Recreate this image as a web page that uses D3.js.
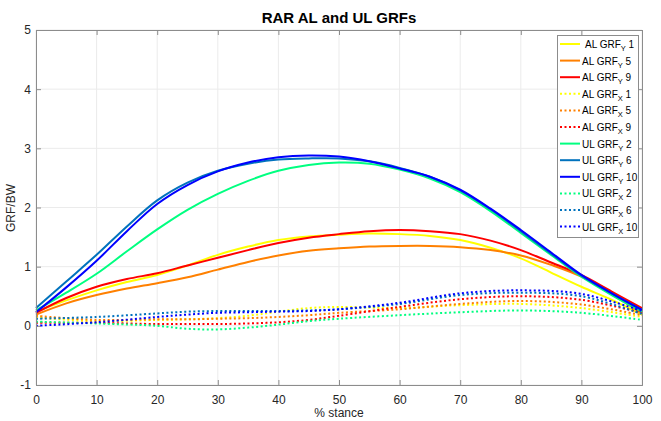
<!DOCTYPE html>
<html>
<head lang="en">
    <meta charset="UTF-8">
    <title>RAR AL and UL GRFs</title>
    <script src="https://cdn.jsdelivr.net/npm/d3@7/dist/d3.min.js"></script>
    <style>
        body { margin: 0; background: #fff; }
        svg { font-family: "Liberation Sans", Arial, sans-serif; }
    </style>
</head>
<body>
<div id="chart"></div>
<script>
    // % stance sample points
    var stance = [0,5,10,15,20,25,30,35,40,45,50,55,60,65,70,75,80,85,90,95,100];
    var stanceX = [0,10,20,25,30,35,40,45,50,60,70,80,90,100];

    // vertical GRF (solid)
    var alY1  = [0.24,0.43,0.60,0.74,0.86,1.02,1.20,1.34,1.45,1.51,1.54,1.56,1.55,1.52,1.45,1.32,1.14,0.90,0.66,0.44,0.19];
    var alY5  = [0.19,0.38,0.52,0.63,0.72,0.82,0.95,1.08,1.19,1.27,1.31,1.34,1.35,1.35,1.33,1.28,1.19,1.03,0.83,0.53,0.21];
    var alY9  = [0.22,0.47,0.66,0.79,0.89,1.02,1.15,1.28,1.40,1.49,1.55,1.60,1.62,1.60,1.55,1.44,1.28,1.07,0.86,0.58,0.30];
    var ulY2  = [0.26,0.56,0.88,1.26,1.63,1.96,2.23,2.45,2.62,2.72,2.76,2.74,2.64,2.49,2.26,1.94,1.57,1.20,0.83,0.52,0.24];
    var ulY6  = [0.30,0.75,1.20,1.68,2.12,2.42,2.62,2.74,2.81,2.83,2.83,2.78,2.67,2.52,2.29,1.97,1.60,1.22,0.85,0.55,0.27];
    var ulY10 = [0.23,0.65,1.10,1.60,2.06,2.38,2.61,2.76,2.85,2.88,2.86,2.78,2.66,2.52,2.30,1.98,1.62,1.24,0.86,0.55,0.27];

    // horizontal GRF (dotted)
    var alX1  = [0.14,0.08,0.10,0.11,0.13,0.17,0.24,0.30,0.32,0.30,0.35,0.37,0.30,0.15];
    var alX5  = [0.17,0.10,0.11,0.11,0.12,0.13,0.15,0.18,0.22,0.28,0.37,0.42,0.36,0.18];
    var alX9  = [0.05,0.05,0.03,0.03,0.03,0.04,0.06,0.10,0.17,0.32,0.45,0.50,0.44,0.22];
    var ulX2  = [0.07,0.04,0.00,-0.05,-0.06,-0.03,0.02,0.08,0.12,0.18,0.23,0.26,0.22,0.10];
    var ulX6  = [0.12,0.15,0.21,0.24,0.25,0.25,0.25,0.26,0.28,0.37,0.52,0.56,0.50,0.20];
    var ulX10 = [0.00,0.06,0.15,0.19,0.22,0.23,0.24,0.25,0.28,0.39,0.55,0.60,0.54,0.25];

    var xTicks = [0,10,20,30,40,50,60,70,80,90,100];
    var yTicks = [-1,0,1,2,3,4,5];

    var series = [
        {pre:'AL GRF', sub:'Y', post:' 1',  x:stance,  y:alY1,  color:'#ffff00', dot:false, lead:true},
        {pre:'AL GRF', sub:'Y', post:' 5',  x:stance,  y:alY5,  color:'#ff8000', dot:false},
        {pre:'AL GRF', sub:'Y', post:' 9',  x:stance,  y:alY9,  color:'#ff0000', dot:false},
        {pre:'AL GRF', sub:'X', post:' 1',  x:stanceX, y:alX1,  color:'#ffff00', dot:true},
        {pre:'AL GRF', sub:'X', post:' 5',  x:stanceX, y:alX5,  color:'#ff8000', dot:true},
        {pre:'AL GRF', sub:'X', post:' 9',  x:stanceX, y:alX9,  color:'#ff0000', dot:true},
        {pre:'UL GRF', sub:'Y', post:' 2',  x:stance,  y:ulY2,  color:'#00ff80', dot:false},
        {pre:'UL GRF', sub:'Y', post:' 6',  x:stance,  y:ulY6,  color:'#0072bd', dot:false},
        {pre:'UL GRF', sub:'Y', post:' 10', x:stance,  y:ulY10, color:'#0000ff', dot:false},
        {pre:'UL GRF', sub:'X', post:' 2',  x:stanceX, y:ulX2,  color:'#00ff80', dot:true},
        {pre:'UL GRF', sub:'X', post:' 6',  x:stanceX, y:ulX6,  color:'#0072bd', dot:true},
        {pre:'UL GRF', sub:'X', post:' 10', x:stanceX, y:ulX10, color:'#0000ff', dot:true}
    ];

    var width = 661, height = 421;
    var m = {l: 36, r: 642, t: 30, b: 385};

    var svg = d3.select('#chart').append('svg')
            .attr('width', width)
            .attr('height', height);

    var x = d3.scaleLinear().domain([0,100]).range([m.l, m.r]);
    var y = d3.scaleLinear().domain([-1,5]).range([m.b, m.t]);

    // grid
    svg.append('g').selectAll('line')
            .data(xTicks)
            .enter().append('line')
            .attr('x1', function(d){ return x(d); })
            .attr('x2', function(d){ return x(d); })
            .attr('y1', m.t).attr('y2', m.b)
            .style('stroke', '#ebebeb').style('stroke-width', 1);
    svg.append('g').selectAll('line')
            .data(yTicks)
            .enter().append('line')
            .attr('x1', m.l).attr('x2', m.r)
            .attr('y1', function(d){ return y(d); })
            .attr('y2', function(d){ return y(d); })
            .style('stroke', '#ebebeb').style('stroke-width', 1);

    // curves
    var line = d3.line()
            .x(function(d){ return x(d[0]); })
            .y(function(d){ return y(d[1]); })
            .curve(d3.curveCatmullRom);

    svg.append('g').selectAll('path')
            .data(series)
            .enter().append('path')
            .attr('d', function(s){ return line(d3.zip(s.x, s.y)); })
            .style('fill', 'none')
            .style('stroke', function(s){ return s.color; })
            .style('stroke-width', 2)
            .style('stroke-dasharray', function(s){ return s.dot ? '2,2.5' : null; });

    // axes (MATLAB style box with inward ticks)
    var axCol = '#8c8c8c', txtCol = '#262626';
    var plain = function(d){ return String(d); };
    var gx = svg.append('g').attr('transform','translate(0,'+m.b+')')
            .call(d3.axisBottom(x).tickValues(xTicks).tickFormat(plain).tickSize(-5).tickPadding(8));
    var gxt = svg.append('g').attr('transform','translate(0,'+m.t+')')
            .call(d3.axisTop(x).tickValues(xTicks).tickSize(-5).tickFormat(''));
    var gy = svg.append('g').attr('transform','translate('+m.l+',0)')
            .call(d3.axisLeft(y).tickValues(yTicks).tickFormat(plain).tickSize(-5).tickPadding(5));
    var gyr = svg.append('g').attr('transform','translate('+m.r+',0)')
            .call(d3.axisRight(y).tickValues(yTicks).tickSize(-5).tickFormat(''));
    [gx,gxt,gy,gyr].forEach(function(g){
        g.select('.domain').style('stroke', axCol);
        g.selectAll('.tick line').style('stroke', axCol);
        g.selectAll('text').style('fill', txtCol).style('font-size','12px')
                .style('font-family','"Liberation Sans", Arial, sans-serif');
    });
    gx.selectAll('text').attr('dy','0.9em');

    // titles
    svg.append('text')
            .attr('x', 339).attr('y', 23)
            .attr('text-anchor','middle')
            .style('font-weight','bold').style('font-size','15px')
            .style('fill','#000')
            .text('RAR AL and UL GRFs');
    svg.append('text')
            .attr('x', 339).attr('y', 417)
            .attr('text-anchor','middle')
            .style('font-size','12px').style('fill', txtCol)
            .text('% stance');
    svg.append('text')
            .attr('transform','translate(15,208) rotate(-90)')
            .attr('text-anchor','middle')
            .style('font-size','12px').style('fill', txtCol)
            .text('GRF/BW');

    // legend
    var lg = svg.append('g');
    lg.append('rect')
            .attr('x', 557.5).attr('y', 35.5)
            .attr('width', 81).attr('height', 202)
            .style('fill','#fff').style('stroke', axCol).style('stroke-width',1);
    var row = lg.selectAll('g.row')
            .data(series)
            .enter().append('g')
            .attr('transform', function(d,i){ return 'translate(0,'+(44 + i*16.6)+')'; });
    row.append('line')
            .attr('x1', 560).attr('x2', 580)
            .attr('y1', 0).attr('y2', 0)
            .style('stroke', function(s){ return s.color; })
            .style('stroke-width', 2)
            .style('stroke-dasharray', function(s){ return s.dot ? '2,2.5' : null; });
    var t = row.append('text')
            .attr('x', function(s){ return s.lead ? 585 : 582; })
            .attr('y', 4)
            .style('font-size','10px').style('fill','#000');
    t.append('tspan').text(function(s){ return s.pre; });
    t.append('tspan').attr('dy', 3).style('font-size','7.5px').text(function(s){ return s.sub; });
    t.append('tspan').attr('dy', -3).text(function(s){ return s.post; });
</script>
</body>
</html>
